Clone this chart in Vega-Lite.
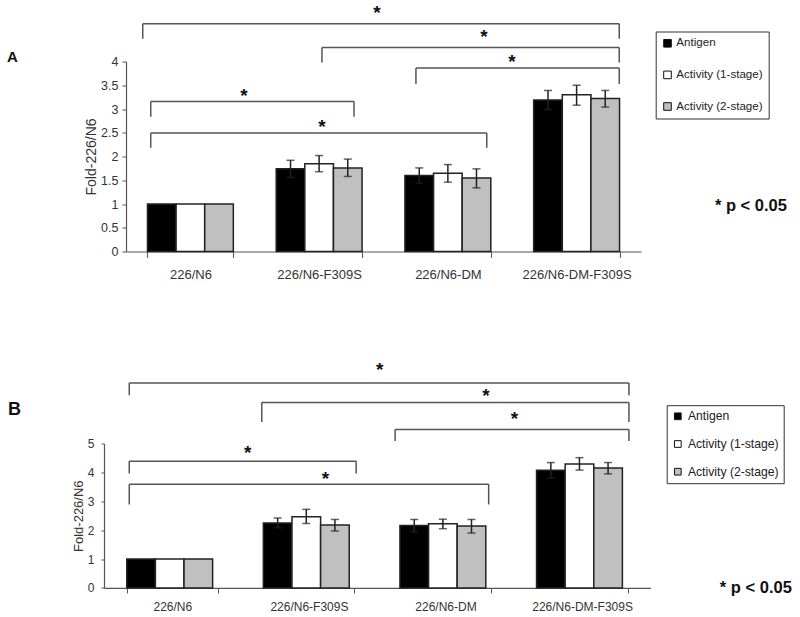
{
  "$schema": "https://vega.github.io/schema/vega-lite/v6.json",
  "background": "white",
  "padding": {"left": 6, "top": 3.5, "right": 0, "bottom": 0},
  "config": {
    "view": {"stroke": null},
    "font": "Liberation Sans",
    "axis": {"grid": false, "domainColor": "#555", "domainWidth": 1.2, "tickColor": "#555", "labelColor": "#333", "titleColor": "#333", "labelFont": "Liberation Sans", "titleFont": "Liberation Sans", "titleFontWeight": "normal"},
    "legend": {"labelFont": "Liberation Sans", "labelColor": "#222", "symbolType": "square", "symbolStrokeColor": "#111", "symbolStrokeWidth": 1, "strokeColor": "#333", "title": null}
  },
  "datasets": {
    "barsA": [
      {"group": "226/N6", "series": "Antigen", "value": 1},
      {"group": "226/N6", "series": "Activity (1-stage)", "value": 1},
      {"group": "226/N6", "series": "Activity (2-stage)", "value": 1},
      {"group": "226/N6-F309S", "series": "Antigen", "value": 1.74, "lo": 1.56, "hi": 1.92},
      {"group": "226/N6-F309S", "series": "Activity (1-stage)", "value": 1.85, "lo": 1.68, "hi": 2.02},
      {"group": "226/N6-F309S", "series": "Activity (2-stage)", "value": 1.76, "lo": 1.58, "hi": 1.945},
      {"group": "226/N6-DM", "series": "Antigen", "value": 1.6, "lo": 1.44, "hi": 1.76},
      {"group": "226/N6-DM", "series": "Activity (1-stage)", "value": 1.65, "lo": 1.46, "hi": 1.83},
      {"group": "226/N6-DM", "series": "Activity (2-stage)", "value": 1.55, "lo": 1.34, "hi": 1.74},
      {"group": "226/N6-DM-F309S", "series": "Antigen", "value": 3.19, "lo": 2.99, "hi": 3.39},
      {"group": "226/N6-DM-F309S", "series": "Activity (1-stage)", "value": 3.3, "lo": 3.08, "hi": 3.5},
      {"group": "226/N6-DM-F309S", "series": "Activity (2-stage)", "value": 3.22, "lo": 3.04, "hi": 3.39}
    ],
    "barsB": [
      {"group": "226/N6", "series": "Antigen", "value": 1},
      {"group": "226/N6", "series": "Activity (1-stage)", "value": 1},
      {"group": "226/N6", "series": "Activity (2-stage)", "value": 1},
      {"group": "226/N6-F309S", "series": "Antigen", "value": 2.25, "lo": 2.08, "hi": 2.42},
      {"group": "226/N6-F309S", "series": "Activity (1-stage)", "value": 2.46, "lo": 2.23, "hi": 2.72},
      {"group": "226/N6-F309S", "series": "Activity (2-stage)", "value": 2.18, "lo": 1.97, "hi": 2.37},
      {"group": "226/N6-DM", "series": "Antigen", "value": 2.16, "lo": 1.95, "hi": 2.37},
      {"group": "226/N6-DM", "series": "Activity (1-stage)", "value": 2.22, "lo": 2.05, "hi": 2.38},
      {"group": "226/N6-DM", "series": "Activity (2-stage)", "value": 2.14, "lo": 1.9, "hi": 2.37},
      {"group": "226/N6-DM-F309S", "series": "Antigen", "value": 4.07, "lo": 3.8, "hi": 4.34},
      {"group": "226/N6-DM-F309S", "series": "Activity (1-stage)", "value": 4.29, "lo": 4.08, "hi": 4.51},
      {"group": "226/N6-DM-F309S", "series": "Activity (2-stage)", "value": 4.15, "lo": 3.95, "hi": 4.34}
    ],
    "brA": [
      {"x1": 0.13, "x2": 3.831, "y": 4.794, "yd": 4.478, "sx": 1.95, "sy": 5.013},
      {"x1": 1.522, "x2": 3.831, "y": 4.295, "yd": 3.979, "sx": 2.781, "sy": 4.508},
      {"x1": 2.252, "x2": 3.831, "y": 3.861, "yd": 3.524, "sx": 2.998, "sy": 3.982},
      {"x1": 0.192, "x2": 1.771, "y": 3.158, "yd": 2.836, "sx": 0.917, "sy": 3.266},
      {"x1": 0.192, "x2": 2.802, "y": 2.493, "yd": 2.183, "sx": 1.522, "sy": 2.613}
    ],
    "brB": [
      {"x1": 0.185, "x2": 3.843, "y": 7.098, "yd": 6.672, "sx": 2.018, "sy": 7.554},
      {"x1": 1.155, "x2": 3.843, "y": 6.42, "yd": 5.748, "sx": 2.796, "sy": 6.643},
      {"x1": 2.131, "x2": 3.843, "y": 5.485, "yd": 5.09, "sx": 3.004, "sy": 5.857},
      {"x1": 0.185, "x2": 1.846, "y": 4.387, "yd": 3.961, "sx": 1.052, "sy": 4.68},
      {"x1": 0.185, "x2": 2.816, "y": 3.591, "yd": 2.888, "sx": 1.621, "sy": 3.779}
    ]
  },
  "spacing": 79,
  "resolve": {"scale": {"x": "independent", "y": "independent", "color": "independent"}, "legend": {"color": "independent"}},
  "vconcat": [
    {
      "spacing": 0,
      "resolve": {"scale": {"x": "independent", "y": "independent", "color": "independent"}, "legend": {"color": "independent"}},
      "hconcat": [
        {"width": 1, "height": 1, "data": {"values": []}, "mark": "point"},
        {
          "width": 515,
          "height": 190,
          "resolve": {"scale": {"x": "independent"}},
          "layer": [
            {
              "data": {"name": "barsA"},
              "mark": {"type": "bar", "stroke": "#222", "strokeWidth": 1.5},
              "encoding": {
                "x": {"field": "group", "type": "nominal", "sort": null, "scale": {"domain": ["226/N6", "226/N6-F309S", "226/N6-DM", "226/N6-DM-F309S"], "paddingInner": 0.333, "paddingOuter": 0.1667}, "axis": {"title": null, "labelAngle": 0, "tickBand": "extent", "tickSize": 6, "labelPadding": 10.5, "labelFontSize": 13}},
                "xOffset": {"field": "series", "type": "nominal", "sort": ["Antigen", "Activity (1-stage)", "Activity (2-stage)"]},
                "y": {"field": "value", "type": "quantitative", "scale": {"domain": [0, 4], "nice": false}, "axis": {"orient": "left", "title": "Fold-226/N6", "values": [0, 0.5, 1, 1.5, 2, 2.5, 3, 3.5, 4], "format": "~g", "tickSize": 4, "labelPadding": 4, "labelFontSize": 12.5, "titleFontSize": 14, "titlePadding": 2}},
                "color": {"field": "series", "type": "nominal", "scale": {"domain": ["Antigen", "Activity (1-stage)", "Activity (2-stage)"], "range": ["#000000", "#ffffff", "#c0c0c0"]}, "legend": {"orient": "none", "legendX": 529.7, "legendY": -30, "padding": 6, "rowPadding": 18.6, "labelFontSize": 11.6, "symbolSize": 58, "labelOffset": 3}}
              }
            },
            {
              "data": {"name": "barsA"},
              "mark": {"type": "rule", "color": "#222", "strokeWidth": 1.5},
              "encoding": {
                "x": {"field": "group", "type": "nominal", "sort": null, "scale": {"domain": ["226/N6", "226/N6-F309S", "226/N6-DM", "226/N6-DM-F309S"], "paddingInner": 0.333, "paddingOuter": 0.1667}, "axis": null},
                "xOffset": {"field": "series", "type": "nominal", "sort": ["Antigen", "Activity (1-stage)", "Activity (2-stage)"]},
                "y": {"field": "lo", "type": "quantitative", "scale": {"domain": [0, 4], "nice": false}, "axis": {"orient": "left", "title": "Fold-226/N6", "values": [0, 0.5, 1, 1.5, 2, 2.5, 3, 3.5, 4], "format": "~g", "tickSize": 4, "labelPadding": 4, "labelFontSize": 12.5, "titleFontSize": 14, "titlePadding": 2}},
                "y2": {"field": "hi"}
              }
            },
            {
              "data": {"name": "barsA"},
              "mark": {"type": "tick", "color": "#222", "thickness": 1.5, "size": 8},
              "encoding": {
                "x": {"field": "group", "type": "nominal", "sort": null, "scale": {"domain": ["226/N6", "226/N6-F309S", "226/N6-DM", "226/N6-DM-F309S"], "paddingInner": 0.333, "paddingOuter": 0.1667}, "axis": null},
                "xOffset": {"field": "series", "type": "nominal", "sort": ["Antigen", "Activity (1-stage)", "Activity (2-stage)"]},
                "y": {"field": "hi", "type": "quantitative", "scale": {"domain": [0, 4], "nice": false}, "axis": {"orient": "left", "title": "Fold-226/N6", "values": [0, 0.5, 1, 1.5, 2, 2.5, 3, 3.5, 4], "format": "~g", "tickSize": 4, "labelPadding": 4, "labelFontSize": 12.5, "titleFontSize": 14, "titlePadding": 2}}
              }
            },
            {
              "data": {"name": "barsA"},
              "mark": {"type": "tick", "color": "#222", "thickness": 1.5, "size": 8},
              "encoding": {
                "x": {"field": "group", "type": "nominal", "sort": null, "scale": {"domain": ["226/N6", "226/N6-F309S", "226/N6-DM", "226/N6-DM-F309S"], "paddingInner": 0.333, "paddingOuter": 0.1667}, "axis": null},
                "xOffset": {"field": "series", "type": "nominal", "sort": ["Antigen", "Activity (1-stage)", "Activity (2-stage)"]},
                "y": {"field": "lo", "type": "quantitative", "scale": {"domain": [0, 4], "nice": false}, "axis": {"orient": "left", "title": "Fold-226/N6", "values": [0, 0.5, 1, 1.5, 2, 2.5, 3, 3.5, 4], "format": "~g", "tickSize": 4, "labelPadding": 4, "labelFontSize": 12.5, "titleFontSize": 14, "titlePadding": 2}}
              }
            },
            {
              "data": {"name": "brA"},
              "mark": {"type": "rule", "color": "#555", "strokeWidth": 1.5},
              "encoding": {
                "x": {"field": "x1", "type": "quantitative", "scale": {"domain": [0, 4], "nice": false, "zero": false}, "axis": null},
                "x2": {"field": "x2"},
                "y": {"field": "y", "type": "quantitative", "scale": {"domain": [0, 4], "nice": false}, "axis": {"orient": "left", "title": "Fold-226/N6", "values": [0, 0.5, 1, 1.5, 2, 2.5, 3, 3.5, 4], "format": "~g", "tickSize": 4, "labelPadding": 4, "labelFontSize": 12.5, "titleFontSize": 14, "titlePadding": 2}}
              }
            },
            {
              "data": {"name": "brA"},
              "mark": {"type": "rule", "color": "#555", "strokeWidth": 1.5},
              "encoding": {
                "x": {"field": "x1", "type": "quantitative", "scale": {"domain": [0, 4], "nice": false, "zero": false}, "axis": null},
                "y": {"field": "y", "type": "quantitative", "scale": {"domain": [0, 4], "nice": false}, "axis": {"orient": "left", "title": "Fold-226/N6", "values": [0, 0.5, 1, 1.5, 2, 2.5, 3, 3.5, 4], "format": "~g", "tickSize": 4, "labelPadding": 4, "labelFontSize": 12.5, "titleFontSize": 14, "titlePadding": 2}},
                "y2": {"field": "yd"}
              }
            },
            {
              "data": {"name": "brA"},
              "mark": {"type": "rule", "color": "#555", "strokeWidth": 1.5},
              "encoding": {
                "x": {"field": "x2", "type": "quantitative", "scale": {"domain": [0, 4], "nice": false, "zero": false}, "axis": null},
                "y": {"field": "y", "type": "quantitative", "scale": {"domain": [0, 4], "nice": false}, "axis": {"orient": "left", "title": "Fold-226/N6", "values": [0, 0.5, 1, 1.5, 2, 2.5, 3, 3.5, 4], "format": "~g", "tickSize": 4, "labelPadding": 4, "labelFontSize": 12.5, "titleFontSize": 14, "titlePadding": 2}},
                "y2": {"field": "yd"}
              }
            },
            {
              "data": {"name": "brA"},
              "mark": {"type": "text", "text": "*", "fontSize": 19, "fontWeight": "bold", "color": "#111", "align": "center", "baseline": "middle"},
              "encoding": {
                "x": {"field": "sx", "type": "quantitative", "scale": {"domain": [0, 4], "nice": false, "zero": false}, "axis": null},
                "y": {"field": "sy", "type": "quantitative", "scale": {"domain": [0, 4], "nice": false}, "axis": {"orient": "left", "title": "Fold-226/N6", "values": [0, 0.5, 1, 1.5, 2, 2.5, 3, 3.5, 4], "format": "~g", "tickSize": 4, "labelPadding": 4, "labelFontSize": 12.5, "titleFontSize": 14, "titlePadding": 2}}
              }
            },
            {
              "data": {"values": [{"x": -0.882, "y": 4.088, "label": "A"}, {"x": 4.854, "y": 0.962, "label": "* p < 0.05"}]},
              "mark": {"type": "text", "fontWeight": "bold", "color": "#111", "align": "center", "baseline": "middle"},
              "encoding": {
                "x": {"field": "x", "type": "quantitative", "scale": {"domain": [0, 4], "nice": false, "zero": false}, "axis": null},
                "y": {"field": "y", "type": "quantitative", "scale": {"domain": [0, 4], "nice": false}, "axis": {"orient": "left", "title": "Fold-226/N6", "values": [0, 0.5, 1, 1.5, 2, 2.5, 3, 3.5, 4], "format": "~g", "tickSize": 4, "labelPadding": 4, "labelFontSize": 12.5, "titleFontSize": 14, "titlePadding": 2}},
                "text": {"field": "label"},
                "size": {"field": "label", "type": "nominal", "scale": {"domain": ["A", "* p < 0.05"], "range": [15, 18]}, "legend": null}
              }
            }
          ]
        }
      ]
    },
    {
      "spacing": 0,
      "resolve": {"scale": {"x": "independent", "y": "independent", "color": "independent"}, "legend": {"color": "independent"}},
      "hconcat": [
        {"width": 1, "height": 1, "data": {"values": []}, "mark": "point"},
        {
          "width": 546.4,
          "height": 144.4,
          "resolve": {"scale": {"x": "independent"}},
          "layer": [
            {
              "data": {"name": "barsB"},
              "mark": {"type": "bar", "stroke": "#222", "strokeWidth": 1.5},
              "encoding": {
                "x": {"field": "group", "type": "nominal", "sort": null, "scale": {"domain": ["226/N6", "226/N6-F309S", "226/N6-DM", "226/N6-DM-F309S"], "paddingInner": 0.333, "paddingOuter": 0.1667}, "axis": {"title": null, "labelAngle": 0, "tickBand": "extent", "tickSize": 5, "labelPadding": 9, "labelFontSize": 12}},
                "xOffset": {"field": "series", "type": "nominal", "sort": ["Antigen", "Activity (1-stage)", "Activity (2-stage)"]},
                "y": {"field": "value", "type": "quantitative", "scale": {"domain": [0, 5], "nice": false}, "axis": {"orient": "left", "title": "Fold-226/N6", "values": [0, 1, 2, 3, 4, 5], "format": "~g", "tickSize": 3, "labelPadding": 7, "labelFontSize": 12, "titleFontSize": 13, "titlePadding": 2}},
                "color": {"field": "series", "type": "nominal", "scale": {"domain": ["Antigen", "Activity (1-stage)", "Activity (2-stage)"], "range": ["#000000", "#ffffff", "#c0c0c0"]}, "legend": {"orient": "none", "legendX": 562.7, "legendY": -38.3, "padding": 5, "rowPadding": 14.7, "labelFontSize": 12.2, "symbolSize": 45, "labelOffset": 4}}
              }
            },
            {
              "data": {"name": "barsB"},
              "mark": {"type": "rule", "color": "#222", "strokeWidth": 1.5},
              "encoding": {
                "x": {"field": "group", "type": "nominal", "sort": null, "scale": {"domain": ["226/N6", "226/N6-F309S", "226/N6-DM", "226/N6-DM-F309S"], "paddingInner": 0.333, "paddingOuter": 0.1667}, "axis": null},
                "xOffset": {"field": "series", "type": "nominal", "sort": ["Antigen", "Activity (1-stage)", "Activity (2-stage)"]},
                "y": {"field": "lo", "type": "quantitative", "scale": {"domain": [0, 5], "nice": false}, "axis": {"orient": "left", "title": "Fold-226/N6", "values": [0, 1, 2, 3, 4, 5], "format": "~g", "tickSize": 3, "labelPadding": 7, "labelFontSize": 12, "titleFontSize": 13, "titlePadding": 2}},
                "y2": {"field": "hi"}
              }
            },
            {
              "data": {"name": "barsB"},
              "mark": {"type": "tick", "color": "#222", "thickness": 1.5, "size": 8},
              "encoding": {
                "x": {"field": "group", "type": "nominal", "sort": null, "scale": {"domain": ["226/N6", "226/N6-F309S", "226/N6-DM", "226/N6-DM-F309S"], "paddingInner": 0.333, "paddingOuter": 0.1667}, "axis": null},
                "xOffset": {"field": "series", "type": "nominal", "sort": ["Antigen", "Activity (1-stage)", "Activity (2-stage)"]},
                "y": {"field": "hi", "type": "quantitative", "scale": {"domain": [0, 5], "nice": false}, "axis": {"orient": "left", "title": "Fold-226/N6", "values": [0, 1, 2, 3, 4, 5], "format": "~g", "tickSize": 3, "labelPadding": 7, "labelFontSize": 12, "titleFontSize": 13, "titlePadding": 2}}
              }
            },
            {
              "data": {"name": "barsB"},
              "mark": {"type": "tick", "color": "#222", "thickness": 1.5, "size": 8},
              "encoding": {
                "x": {"field": "group", "type": "nominal", "sort": null, "scale": {"domain": ["226/N6", "226/N6-F309S", "226/N6-DM", "226/N6-DM-F309S"], "paddingInner": 0.333, "paddingOuter": 0.1667}, "axis": null},
                "xOffset": {"field": "series", "type": "nominal", "sort": ["Antigen", "Activity (1-stage)", "Activity (2-stage)"]},
                "y": {"field": "lo", "type": "quantitative", "scale": {"domain": [0, 5], "nice": false}, "axis": {"orient": "left", "title": "Fold-226/N6", "values": [0, 1, 2, 3, 4, 5], "format": "~g", "tickSize": 3, "labelPadding": 7, "labelFontSize": 12, "titleFontSize": 13, "titlePadding": 2}}
              }
            },
            {
              "data": {"name": "brB"},
              "mark": {"type": "rule", "color": "#555", "strokeWidth": 1.5},
              "encoding": {
                "x": {"field": "x1", "type": "quantitative", "scale": {"domain": [0, 4], "nice": false, "zero": false}, "axis": null},
                "x2": {"field": "x2"},
                "y": {"field": "y", "type": "quantitative", "scale": {"domain": [0, 5], "nice": false}, "axis": {"orient": "left", "title": "Fold-226/N6", "values": [0, 1, 2, 3, 4, 5], "format": "~g", "tickSize": 3, "labelPadding": 7, "labelFontSize": 12, "titleFontSize": 13, "titlePadding": 2}}
              }
            },
            {
              "data": {"name": "brB"},
              "mark": {"type": "rule", "color": "#555", "strokeWidth": 1.5},
              "encoding": {
                "x": {"field": "x1", "type": "quantitative", "scale": {"domain": [0, 4], "nice": false, "zero": false}, "axis": null},
                "y": {"field": "y", "type": "quantitative", "scale": {"domain": [0, 5], "nice": false}, "axis": {"orient": "left", "title": "Fold-226/N6", "values": [0, 1, 2, 3, 4, 5], "format": "~g", "tickSize": 3, "labelPadding": 7, "labelFontSize": 12, "titleFontSize": 13, "titlePadding": 2}},
                "y2": {"field": "yd"}
              }
            },
            {
              "data": {"name": "brB"},
              "mark": {"type": "rule", "color": "#555", "strokeWidth": 1.5},
              "encoding": {
                "x": {"field": "x2", "type": "quantitative", "scale": {"domain": [0, 4], "nice": false, "zero": false}, "axis": null},
                "y": {"field": "y", "type": "quantitative", "scale": {"domain": [0, 5], "nice": false}, "axis": {"orient": "left", "title": "Fold-226/N6", "values": [0, 1, 2, 3, 4, 5], "format": "~g", "tickSize": 3, "labelPadding": 7, "labelFontSize": 12, "titleFontSize": 13, "titlePadding": 2}},
                "y2": {"field": "yd"}
              }
            },
            {
              "data": {"name": "brB"},
              "mark": {"type": "text", "text": "*", "fontSize": 19, "fontWeight": "bold", "color": "#111", "align": "center", "baseline": "middle"},
              "encoding": {
                "x": {"field": "sx", "type": "quantitative", "scale": {"domain": [0, 4], "nice": false, "zero": false}, "axis": null},
                "y": {"field": "sy", "type": "quantitative", "scale": {"domain": [0, 5], "nice": false}, "axis": {"orient": "left", "title": "Fold-226/N6", "values": [0, 1, 2, 3, 4, 5], "format": "~g", "tickSize": 3, "labelPadding": 7, "labelFontSize": 12, "titleFontSize": 13, "titlePadding": 2}}
              }
            },
            {
              "data": {"values": [{"x": -0.656, "y": 6.153, "label": "B"}, {"x": 4.772, "y": -0.02, "label": "* p < 0.05"}]},
              "mark": {"type": "text", "fontWeight": "bold", "color": "#111", "align": "center", "baseline": "middle"},
              "encoding": {
                "x": {"field": "x", "type": "quantitative", "scale": {"domain": [0, 4], "nice": false, "zero": false}, "axis": null},
                "y": {"field": "y", "type": "quantitative", "scale": {"domain": [0, 5], "nice": false}, "axis": {"orient": "left", "title": "Fold-226/N6", "values": [0, 1, 2, 3, 4, 5], "format": "~g", "tickSize": 3, "labelPadding": 7, "labelFontSize": 12, "titleFontSize": 13, "titlePadding": 2}},
                "text": {"field": "label"},
                "size": {"field": "label", "type": "nominal", "scale": {"domain": ["B", "* p < 0.05"], "range": [15, 18]}, "legend": null}
              }
            }
          ]
        }
      ]
    }
  ]
}
